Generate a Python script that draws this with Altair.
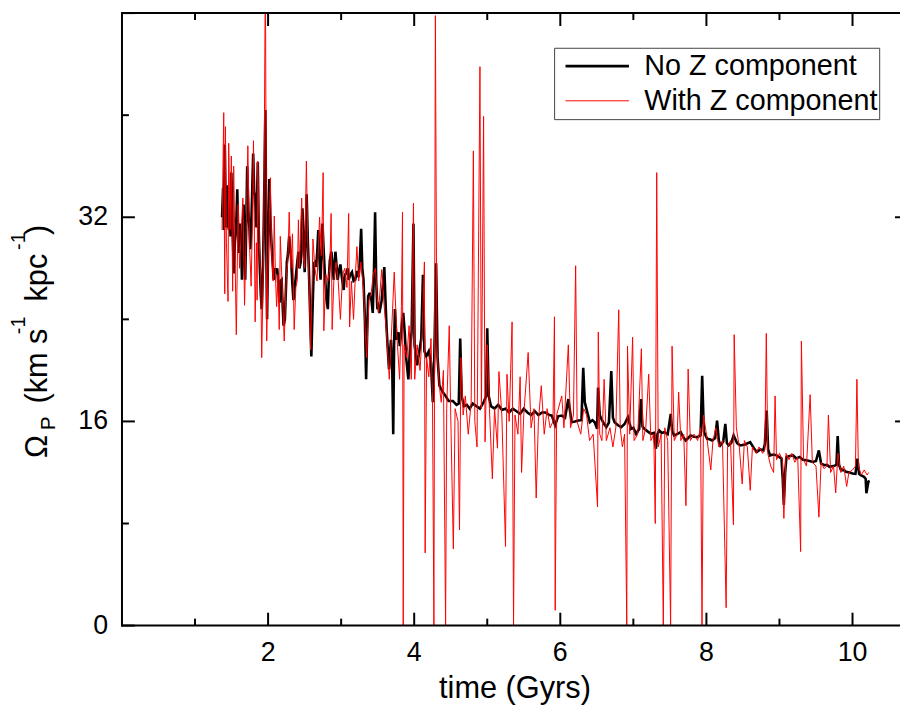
import altair as alt
import pandas as pd

FONT = "Liberation Sans"

# ---------------- data ----------------
series_names = ["No Z component", "With Z component"]

t_no_z = [
    1.370, 1.384, 1.396, 1.407, 1.418, 1.429, 1.440, 1.452, 1.463, 1.475, 1.486, 1.497,
    1.511, 1.522, 1.533, 1.545, 1.556, 1.567, 1.578, 1.590, 1.601, 1.612, 1.624, 1.633,
    1.642, 1.654, 1.665, 1.676, 1.687, 1.700, 1.714, 1.730, 1.746, 1.757, 1.768, 1.780,
    1.796, 1.810, 1.823, 1.832, 1.841, 1.850, 1.859, 1.872, 1.886, 1.900, 1.913, 1.925,
    1.936, 1.950, 1.963, 1.975, 1.986, 2.000, 2.017, 2.030, 2.049, 2.062, 2.076, 2.092,
    2.108, 2.125, 2.139, 2.157, 2.170, 2.185, 2.200, 2.212, 2.230, 2.245, 2.257, 2.270,
    2.289, 2.300, 2.311, 2.330, 2.347, 2.365, 2.384, 2.400, 2.415, 2.430, 2.447, 2.470,
    2.485, 2.501, 2.515, 2.528, 2.545, 2.560, 2.575, 2.592, 2.610, 2.628, 2.645, 2.659,
    2.675, 2.687, 2.700, 2.718, 2.732, 2.745, 2.760, 2.777, 2.800, 2.818, 2.830, 2.845,
    2.867, 2.885, 2.899, 2.910, 2.922, 2.940, 2.953, 2.970, 2.990, 3.010, 3.035, 3.050,
    3.071, 3.090, 3.103, 3.125, 3.148, 3.170, 3.193, 3.215, 3.239, 3.255, 3.274, 3.290,
    3.306, 3.325, 3.342, 3.356, 3.370, 3.385, 3.397, 3.415, 3.433, 3.450, 3.465, 3.480,
    3.496, 3.510, 3.523, 3.540, 3.555, 3.575, 3.591, 3.610, 3.623, 3.640, 3.655, 3.670,
    3.682, 3.700, 3.713, 3.725, 3.736, 3.758, 3.781, 3.804, 3.830, 3.850, 3.870, 3.890,
    3.920, 3.945, 3.965, 3.990, 4.005, 4.040, 4.070, 4.097, 4.120, 4.140, 4.166, 4.200,
    4.230, 4.255, 4.275, 4.300, 4.320, 4.345, 4.390, 4.430, 4.470, 4.530, 4.580, 4.610,
    4.630, 4.650, 4.680, 4.720, 4.760, 4.800, 4.850, 4.900, 4.950, 4.985, 5.000, 5.020,
    5.050, 5.100, 5.150, 5.200, 5.250, 5.300, 5.350, 5.400, 5.450, 5.500, 5.550, 5.600,
    5.650, 5.700, 5.750, 5.794, 5.850, 5.884, 5.929, 5.970, 6.020, 6.065, 6.110, 6.155,
    6.200, 6.246, 6.290, 6.314, 6.335, 6.358, 6.404, 6.440, 6.471, 6.504, 6.517, 6.540,
    6.562, 6.600, 6.630, 6.665, 6.698, 6.720, 6.743, 6.790, 6.834, 6.880, 6.925, 6.969,
    7.000, 7.037, 7.080, 7.105, 7.125, 7.150, 7.200, 7.241, 7.280, 7.309, 7.330, 7.354,
    7.390, 7.422, 7.470, 7.512, 7.530, 7.558, 7.600, 7.648, 7.680, 7.716, 7.750, 7.784,
    7.830, 7.875, 7.920, 7.942, 7.965, 8.010, 8.045, 8.078, 8.120, 8.146, 8.170, 8.191,
    8.230, 8.259, 8.280, 8.304, 8.340, 8.372, 8.420, 8.463, 8.530, 8.599, 8.650, 8.689,
    8.740, 8.780, 8.800, 8.825, 8.845, 8.870, 8.920, 8.960, 9.000, 9.028, 9.045, 9.060,
    9.078, 9.096, 9.140, 9.187, 9.230, 9.277, 9.320, 9.367, 9.410, 9.457, 9.500, 9.539,
    9.570, 9.616, 9.650, 9.684, 9.740, 9.780, 9.797, 9.815, 9.842, 9.880, 9.910, 9.960,
    10.000, 10.040, 10.068, 10.090, 10.113, 10.158, 10.180, 10.190, 10.217, 10.235,
]
v_no_z = [
    32.0, 34.3, 31.0, 37.7, 33.0, 31.2, 34.5, 33.6, 31.0, 32.3, 30.5, 35.5,
    31.7, 29.5, 27.6, 30.0, 30.7, 32.0, 34.2, 31.0, 29.2, 31.5, 31.0, 29.5,
    27.1, 30.5, 33.0, 29.5, 27.1, 31.0, 36.0, 32.5, 31.0, 29.5, 31.0, 33.5,
    37.0, 34.0, 33.6, 32.0, 31.2, 33.5, 36.3, 31.0, 28.1, 26.0, 24.8, 27.0,
    29.7, 35.0, 40.4, 30.0, 24.0, 29.5, 35.0, 32.0, 29.7, 28.5, 27.1, 28.0,
    27.6, 28.0, 26.8, 25.3, 27.0, 27.1, 25.0, 23.5, 24.0, 26.5, 28.5, 29.0,
    30.5, 29.5, 29.2, 27.0, 25.5, 26.5, 27.6, 28.5, 29.3, 28.0, 28.5, 32.7,
    30.0, 27.7, 30.5, 33.8, 30.0, 27.6, 24.5, 21.1, 25.0, 28.4, 28.5, 28.1,
    29.5, 31.0, 29.0, 27.1, 29.0, 31.5, 29.5, 27.6, 25.5, 24.8, 27.0, 28.6,
    29.3, 28.0, 27.1, 28.3, 29.3, 28.0, 27.1, 27.8, 28.3, 27.3, 26.3, 27.5,
    27.6, 28.0, 27.1, 27.5, 27.7, 27.0, 27.1, 27.8, 27.3, 28.5, 31.1, 28.0,
    27.1, 24.0, 19.3, 23.0, 25.8, 26.0, 26.0, 25.5, 24.5, 28.0, 32.4, 27.0,
    24.8, 25.0, 24.5, 25.0, 25.5, 27.0, 28.1, 25.0, 23.2, 21.5, 20.1, 21.5,
    22.4, 20.0, 15.0, 22.0, 24.8, 22.4, 23.0, 21.9, 23.5, 24.5, 23.0, 21.0,
    19.3, 22.0, 23.0, 31.5, 22.0, 20.4, 21.5, 22.5, 27.5, 21.5, 21.1, 21.5,
    20.6, 17.5, 21.0, 28.4, 21.0, 18.8, 18.3, 18.0, 17.6, 17.6, 17.3, 17.4,
    22.5, 18.0, 17.2, 17.3, 17.0, 17.4, 17.2, 17.0, 17.5, 18.0, 23.3, 18.0,
    17.2, 17.0, 17.3, 16.9, 17.0, 16.7, 17.0, 16.8, 16.6, 17.0, 16.7, 16.5,
    16.8, 16.5, 16.7, 16.7, 16.5, 16.46, 15.7, 16.4, 16.46, 16.3, 17.75, 15.94,
    16.0, 16.07, 16.1, 20.2, 17.5, 16.98, 15.94, 16.1, 15.94, 15.42, 18.66, 16.5,
    16.2, 15.8, 15.55, 15.9, 19.95, 16.3, 15.94, 15.7, 15.55, 15.8, 16.33, 15.42,
    15.5, 15.03, 15.4, 17.75, 15.6, 15.42, 15.2, 15.03, 15.1, 13.86, 15.0, 15.29,
    15.1, 15.16, 15.0, 16.59, 15.3, 14.9, 15.0, 15.16, 14.8, 14.51, 14.7, 14.9,
    14.8, 14.77, 14.9, 19.57, 15.2, 14.64, 14.6, 14.51, 14.7, 16.07, 14.5, 14.12,
    14.4, 15.81, 14.3, 14.12, 14.3, 14.9, 14.3, 14.12, 14.2, 14.38, 13.9, 13.61,
    13.8, 13.73, 14.2, 16.85, 13.8, 13.34, 13.4, 13.34, 13.2, 13.09, 11.5, 9.46,
    12.0, 13.22, 13.3, 13.34, 13.1, 13.22, 13.0, 12.96, 12.9, 12.83, 12.9, 13.73,
    12.7, 12.57, 12.6, 12.44, 12.5, 12.6, 14.85, 12.6, 12.18, 12.2, 12.05, 12.0,
    11.92, 11.9, 13.09, 11.9, 11.79, 11.66, 11.5, 10.37, 11.28, 11.33,
]

t_with_z = [
    1.370, 1.393, 1.407, 1.416, 1.430, 1.452, 1.461, 1.480, 1.497, 1.515, 1.529, 1.545,
    1.565, 1.590, 1.610, 1.633, 1.655, 1.678, 1.700, 1.723, 1.745, 1.768, 1.790, 1.800,
    1.812, 1.823, 1.840, 1.850, 1.859, 1.880, 1.900, 1.913, 1.940, 1.963, 1.981, 2.000,
    2.031, 2.050, 2.070, 2.085, 2.100, 2.117, 2.135, 2.153, 2.167, 2.190, 2.221, 2.250,
    2.270, 2.289, 2.310, 2.334, 2.357, 2.380, 2.400, 2.415, 2.430, 2.460, 2.480, 2.500,
    2.524, 2.545, 2.565, 2.582, 2.600, 2.614, 2.640, 2.670, 2.705, 2.730, 2.754, 2.763,
    2.790, 2.820, 2.845, 2.863, 2.877, 2.900, 2.930, 2.960, 2.990, 3.020, 3.050, 3.080,
    3.103, 3.116, 3.140, 3.170, 3.195, 3.216, 3.240, 3.270, 3.307, 3.330, 3.350, 3.380,
    3.410, 3.440, 3.470, 3.490, 3.510, 3.555, 3.590, 3.620, 3.659, 3.690, 3.727, 3.760,
    3.800, 3.825, 3.840, 3.850, 3.862, 3.900, 3.930, 3.960, 3.990, 4.007, 4.040, 4.080,
    4.110, 4.140, 4.150, 4.170, 4.200, 4.230, 4.250, 4.270, 4.290, 4.310, 4.340, 4.370,
    4.400, 4.430, 4.445, 4.480, 4.500, 4.536, 4.560, 4.600, 4.620, 4.640, 4.670, 4.700,
    4.740, 4.780, 4.810, 4.830, 4.860, 4.900, 4.920, 4.950, 4.970, 5.000, 5.030, 5.070,
    5.100, 5.140, 5.160, 5.200, 5.250, 5.270, 5.300, 5.340, 5.360, 5.380, 5.420, 5.450,
    5.470, 5.500, 5.560, 5.600, 5.640, 5.670, 5.700, 5.740, 5.780, 5.820, 5.860, 5.900,
    5.920, 5.930, 5.950, 6.020, 6.050, 6.110, 6.140, 6.180, 6.210, 6.230, 6.280, 6.320,
    6.360, 6.400, 6.450, 6.510, 6.520, 6.540, 6.570, 6.600, 6.630, 6.680, 6.720, 6.760,
    6.800, 6.820, 6.850, 6.880, 6.910, 6.920, 6.950, 6.990, 7.010, 7.060, 7.110, 7.130,
    7.170, 7.210, 7.240, 7.280, 7.300, 7.320, 7.340, 7.380, 7.410, 7.430, 7.470, 7.510,
    7.530, 7.560, 7.600, 7.620, 7.650, 7.690, 7.720, 7.750, 7.780, 7.830, 7.880, 7.920,
    7.940, 7.960, 8.000, 8.060, 8.090, 8.130, 8.170, 8.220, 8.270, 8.290, 8.330, 8.370,
    8.380, 8.410, 8.450, 8.490, 8.520, 8.560, 8.600, 8.630, 8.680, 8.720, 8.770, 8.800,
    8.820, 8.840, 8.880, 8.920, 8.940, 8.960, 9.000, 9.040, 9.060, 9.090, 9.130, 9.170,
    9.210, 9.250, 9.290, 9.300, 9.330, 9.370, 9.420, 9.450, 9.500, 9.540, 9.570, 9.610,
    9.650, 9.670, 9.700, 9.740, 9.770, 9.800, 9.840, 9.880, 9.920, 9.950, 10.000, 10.040,
    10.060, 10.080, 10.120, 10.160, 10.200, 10.220,
]
v_with_z = [
    31.0, 40.2, 26.0, 39.1, 30.0, 25.4, 37.8, 31.0, 36.8, 26.2, 36.0, 30.0,
    22.8, 33.0, 28.0, 31.0, 33.5, 25.1, 31.0, 37.6, 30.0, 26.6, 33.0, 38.0,
    31.0, 23.8, 30.0, 25.5, 36.4, 30.0, 27.0, 21.0, 30.0, 52.0, 22.3, 28.0,
    35.1, 29.0, 27.0, 32.1, 27.5, 25.0, 27.5, 23.2, 30.5, 27.0, 22.3, 27.5,
    28.5, 32.4, 28.0, 30.7, 23.2, 26.5, 27.1, 31.8, 28.0, 33.5, 29.0, 28.0,
    36.4, 29.5, 26.0, 21.6, 26.0, 30.3, 28.0, 27.0, 32.0, 29.0, 35.5, 23.1,
    27.5, 27.0, 28.0, 32.3, 23.2, 27.0, 28.5, 27.0, 24.0, 27.5, 28.0, 26.5,
    32.3, 23.4, 27.0, 24.0, 27.5, 29.7, 27.0, 28.5, 26.3, 23.0, 21.0, 25.5,
    26.0, 27.5, 28.0, 26.0, 24.5, 27.9, 25.0, 23.0, 19.3, 23.0, 27.7, 23.0,
    19.3, 25.0, 32.4, 0.0, 22.0, 21.0, 23.5, 19.3, 33.1, 19.3, 22.0, 20.0,
    23.0, 28.5, 5.7, 21.0, 19.5, 22.5, 18.0, 0.0, 47.8, 22.0, 19.0, 17.5,
    20.0, 0.0, 17.0, 23.5, 16.5, 6.0, 17.0, 16.0, 7.5, 21.0, 16.5, 18.0,
    15.0, 17.5, 37.2, 16.0, 14.0, 43.8, 17.0, 39.9, 14.4, 22.0, 17.0, 11.5,
    17.0, 13.9, 19.9, 16.5, 6.2, 19.7, 16.0, 23.8, 0.0, 16.5, 15.0, 19.5,
    12.0, 16.5, 21.4, 15.5, 17.0, 10.0, 16.0, 18.8, 15.0, 17.0, 15.5, 16.0,
    24.2, 1.2, 16.5, 18.0, 15.5, 22.0, 15.5, 16.5, 28.2, 16.0, 15.0, 17.0,
    16.5, 14.5, 15.0, 9.3, 23.0, 15.0, 14.5, 19.3, 14.5, 15.5, 14.0, 15.5,
    24.75, 15.5, 14.0, 15.0, 0.0, 21.9, 15.0, 22.6, 14.5, 15.0, 21.7, 14.5,
    15.5, 19.7, 14.5, 15.0, 8.0, 35.5, 14.0, 15.0, 0.0, 15.5, 14.5, 0.0,
    21.9, 14.5, 15.0, 18.3, 14.5, 15.0, 9.4, 20.1, 14.5, 15.0, 14.5, 15.5,
    0.0, 16.5, 15.0, 12.2, 14.5, 15.5, 14.0, 14.5, 1.4, 14.0, 14.5, 7.9,
    22.8, 15.5, 14.0, 11.1, 14.5, 14.0, 10.6, 14.0, 13.5, 14.0, 13.5, 13.8,
    22.9, 13.5, 12.5, 12.0, 18.0, 13.0, 13.5, 13.0, 8.4, 13.5, 13.0, 13.5,
    12.8, 13.2, 5.8, 22.3, 13.0, 12.5, 18.1, 12.8, 12.5, 8.5, 12.8, 12.3,
    12.5, 16.5, 12.0, 12.5, 10.4, 13.5, 12.0, 12.5, 10.9, 12.0, 12.2, 12.5,
    19.3, 12.5, 11.8, 12.2, 11.8, 12.0,
]

x_major_ticks = [2, 4, 6, 8, 10]
x_minor_ticks = [1, 3, 5, 7, 9]
y_label_ticks = [0, 16, 32]
y_major_ticks = [0, 16, 32, 48]
y_minor_ticks = [8, 24, 40]
y_right_ticks = [16, 32]
x_title = "time (Gyrs)"

# ---------------- tables ----------------
df_no = pd.DataFrame({"time": t_no_z, "omega": v_no_z, "series": series_names[0]})
df_with = pd.DataFrame({"time": t_with_z, "omega": v_with_z, "series": series_names[1]})
df_one = pd.DataFrame({"k": [0]})
df_xlab = pd.DataFrame({"tick": x_major_ticks, "label": [str(v) for v in x_major_ticks]})
df_ylab = pd.DataFrame({"tick": y_label_ticks, "label": [str(v) for v in y_label_ticks]})

W, H = 785, 618
x_scale = alt.Scale(domain=[0, 10.65], nice=False, zero=False)
y_scale = alt.Scale(domain=[0, 48], nice=False, zero=False)
color_scale = alt.Scale(domain=series_names, range=["#000000", "#ff0000"])
width_scale = alt.Scale(domain=series_names, range=[2.6, 1.0])

legend = alt.Legend(
    title=None, orient="none", legendX=436, legendY=35,
    symbolType="stroke", symbolSize=4096, clipHeight=35, rowPadding=0,
    labelFontSize=29, labelFont=FONT, labelColor="black", labelLimit=600,
    labelOffset=14, symbolOffset=9, padding=1,
    strokeColor="#444444", fillColor="white",
)

XF = alt.X("time:Q", scale=x_scale, axis=None)
YF = alt.Y("omega:Q", scale=y_scale, axis=None)

layer_black = alt.Chart(df_no).mark_line(clip=True).encode(
    x=XF, y=YF,
    color=alt.Color("series:N", scale=color_scale, legend=legend),
    strokeWidth=alt.StrokeWidth("series:N", scale=width_scale, legend=legend),
)
layer_red = alt.Chart(df_with).mark_line(clip=True).encode(
    x=XF, y=YF,
    color=alt.Color("series:N", scale=color_scale, legend=legend),
    strokeWidth=alt.StrokeWidth("series:N", scale=width_scale, legend=legend),
)


# inward-pointing ticks at the tick values (tick marks = thin rects)
def tick_marks(values, side, length):
    df = pd.DataFrame({"tick": values})
    if side in ("bottom", "top"):
        centre = H - length / 2 if side == "bottom" else length / 2
        return alt.Chart(df).mark_tick(
            orient="vertical", size=length, thickness=2, color="black", opacity=1
        ).encode(x=alt.X("tick:Q", scale=x_scale, axis=None), y=alt.value(centre))
    centre = length / 2 if side == "left" else W - length / 2
    return alt.Chart(df).mark_tick(
        orient="horizontal", size=length, thickness=2, color="black", opacity=1
    ).encode(y=alt.Y("tick:Q", scale=y_scale, axis=None), x=alt.value(centre))


tick_layers = [
    tick_marks(x_major_ticks, "bottom", 13),
    tick_marks(x_minor_ticks, "bottom", 7),
    tick_marks(x_major_ticks, "top", 13),
    tick_marks(x_minor_ticks, "top", 7),
    tick_marks(y_major_ticks, "left", 13),
    tick_marks(y_minor_ticks, "left", 7),
    tick_marks(y_right_ticks, "right", 5),
]

# frame lines (left, bottom, top)
frame = [
    alt.Chart(df_one).mark_rule(color="black", strokeWidth=2).encode(
        x=alt.value(0), y=alt.value(-1), y2=alt.value(H + 1)),
    alt.Chart(df_one).mark_rule(color="black", strokeWidth=2).encode(
        x=alt.value(-1), x2=alt.value(W), y=alt.value(H)),
    alt.Chart(df_one).mark_rect(color="black", opacity=1).encode(
        x=alt.value(-1), x2=alt.value(W), y=alt.value(-1), y2=alt.value(1)),
]

# tick labels and x title
x_labels = alt.Chart(df_xlab).mark_text(
    font=FONT, fontSize=27, color="black", align="center", baseline="alphabetic"
).encode(x=alt.X("tick:Q", scale=x_scale, axis=None), y=alt.value(H + 36), text="label:N")

y_labels = alt.Chart(df_ylab).mark_text(
    font=FONT, fontSize=27, color="black", align="right", baseline="middle"
).encode(y=alt.Y("tick:Q", scale=y_scale, axis=None), x=alt.value(-14), text="label:N")

x_title_layer = alt.Chart(df_one).mark_text(
    text=x_title, font=FONT, fontSize=31, color="black",
    align="center", baseline="alphabetic",
).encode(x=alt.value(396.5), y=alt.value(H + 73))

# y-axis title built from pieces (subscript / superscripts)
title_pieces = [
    ("Ω", 31, -75.5, 449),
    ("P", 21, -68.0, 421),
    ("(km s", 31, -75.5, 394),
    ("-1", 20, -98.0, 324),
    ("kpc", 31, -75.5, 291),
    ("-1", 20, -98.0, 239),
    (")", 31, -75.5, 224),
]
title_layers = [
    alt.Chart(df_one).mark_text(
        text=txt, angle=270, align="left", baseline="alphabetic",
        font=FONT, fontSize=fs, color="black",
    ).encode(x=alt.value(px), y=alt.value(py))
    for txt, fs, px, py in title_pieces
]

chart = alt.layer(
    layer_black, layer_red, *frame, *tick_layers,
    x_labels, y_labels, x_title_layer, *title_layers
).properties(
    width=W, height=H,
    autosize=alt.AutoSizeParams(type="none"),
    padding={"left": 115, "top": 2, "right": 0, "bottom": 80},
    background="white",
).configure_view(stroke=None)

chart.save("out.html", embed_options={"renderer": "svg", "actions": False})
